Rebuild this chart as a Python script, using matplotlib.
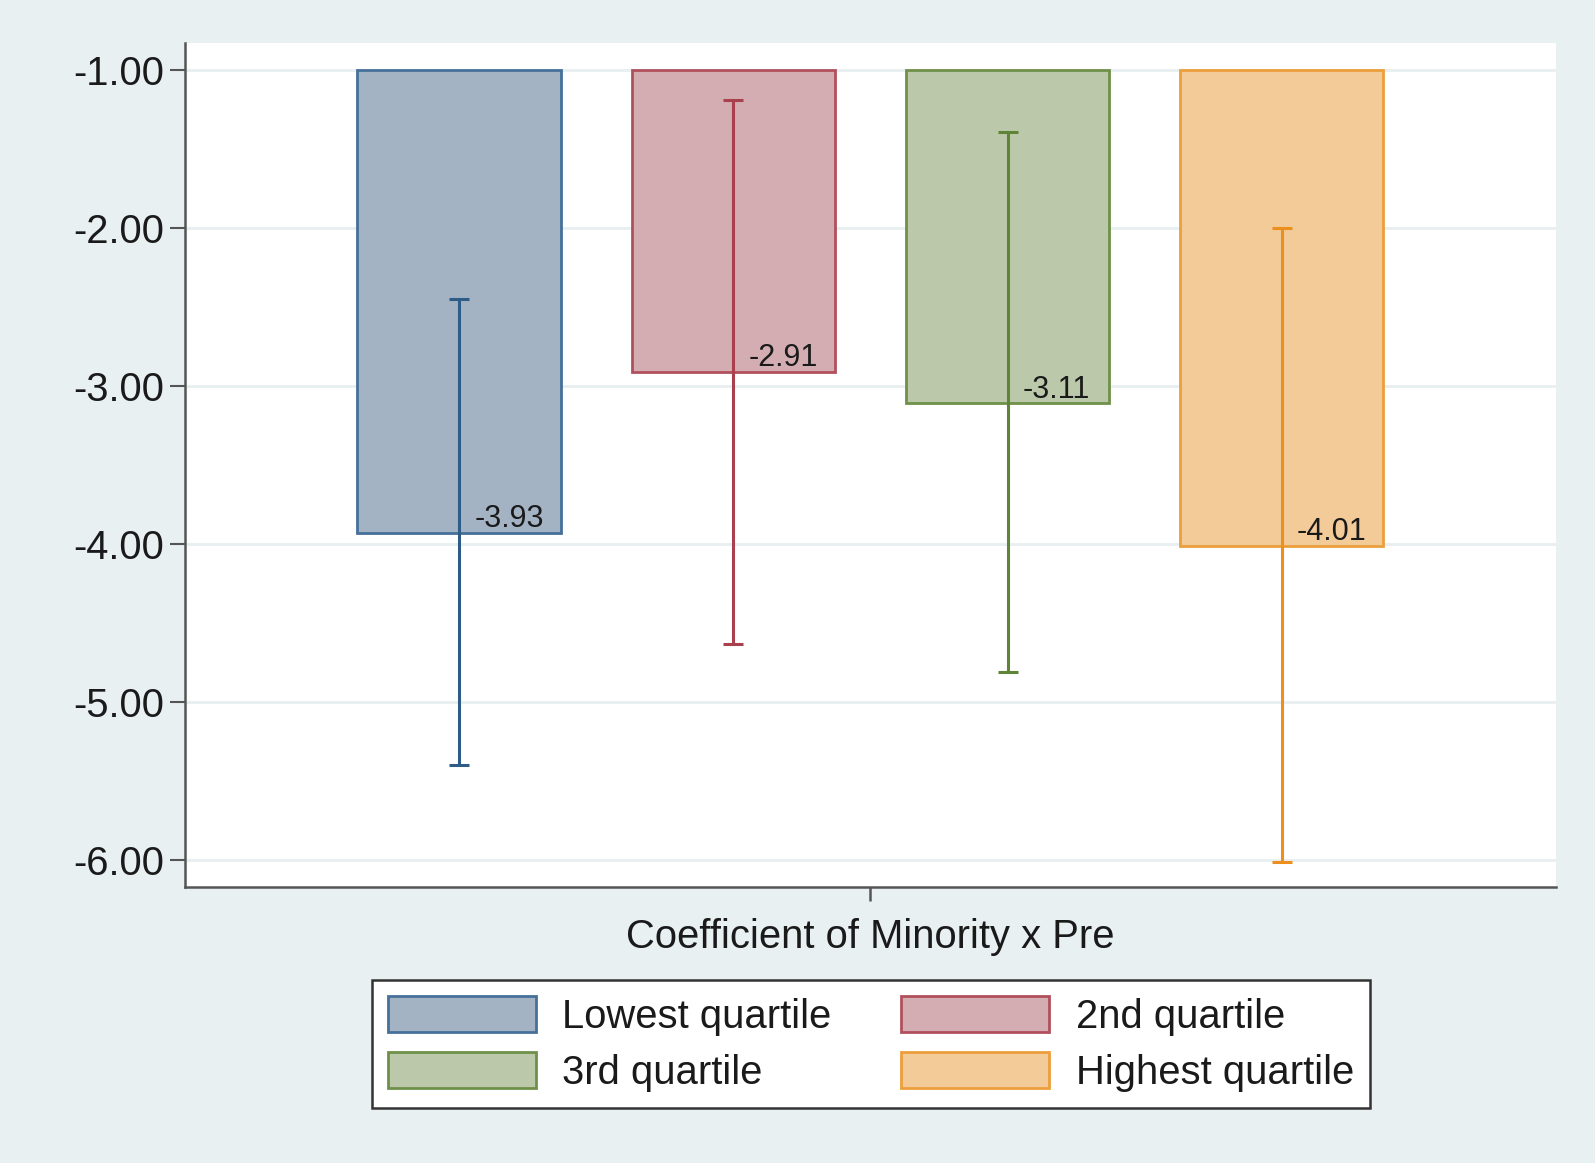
import numpy as np
import matplotlib
matplotlib.use("Agg")
import matplotlib.pyplot as plt
from matplotlib.patches import Patch

plt.rcParams['font.family'] = ['Liberation Sans', 'DejaVu Sans']

# coefficient estimates and 95% CI by quartile
groups = ['Lowest quartile', '2nd quartile', '3rd quartile', 'Highest quartile']
coef = [-3.93, -2.91, -3.11, -4.01]
ci_low = [-5.40, -4.63, -4.81, -6.01]
ci_high = [-2.45, -1.19, -1.39, -2.00]
yticks = [-1, -2, -3, -4, -5, -6]

fills = ['#a4b3c4', '#d3adb1', '#bbc9aa', '#f2cb99']
edges = ['#46709a', '#b0505c', '#6f9049', '#eb9f3c']
lines = ['#2f5b87', '#a8404e', '#5e8438', '#ec8f1c']

bg = '#e8f0f2'
grid_col = '#e8eff1'

fig = plt.figure(figsize=(15.95, 11.63), dpi=100, facecolor=bg)
ax = fig.add_axes([0.116, 0.2373, 0.8595, 0.7257])
ax.set_facecolor('white')

x = np.arange(len(groups))
base = -1.0
for i in range(len(groups)):
    ax.bar(x[i], coef[i] - base, bottom=base, width=0.742,
           color=fills[i], edgecolor=edges[i], linewidth=2, zorder=2)
    lo = coef[i] - ci_low[i]
    hi = ci_high[i] - coef[i]
    ax.errorbar(x[i], coef[i], yerr=[[lo], [hi]], fmt='none',
                ecolor=lines[i], elinewidth=2.2, capsize=7.5, capthick=2.2,
                zorder=3)
    ax.annotate(f'{coef[i]:.2f}', xy=(x[i], coef[i]), xytext=(11, 4),
                textcoords='offset points', ha='left', va='baseline',
                fontsize=22, color='#1a1a1a', zorder=4)

ax.set_xlim(-1.0, 4.0)
ax.set_ylim(-6.17, -0.83)
ax.set_yticks(yticks)
ax.set_yticklabels([f'{v:.2f}' for v in yticks])
ax.yaxis.grid(True, color=grid_col, linewidth=2)
ax.set_axisbelow(True)

ax.set_xticks([1.5])
ax.set_xticklabels([''])
ax.set_xlabel('Coefficient of Minority x Pre', fontsize=28.8,
              color='#1a1a1a', labelpad=9)

for side in ['top', 'right']:
    ax.spines[side].set_visible(False)
for side in ['left', 'bottom']:
    ax.spines[side].set_color('#555555')
    ax.spines[side].set_linewidth(1.8)
ax.tick_params(axis='y', length=11, width=1.5, color='#555555',
               labelsize=28.8, labelcolor='#1a1a1a', pad=4)
ax.tick_params(axis='x', length=10, width=1.8, color='#555555')

# legend filled row by row: matplotlib fills columns first
order = [0, 2, 1, 3]
handles = [Patch(facecolor=fills[i], edgecolor=edges[i], linewidth=2,
                 label=groups[i]) for i in order]
leg = fig.legend(handles=handles, loc='upper center', ncol=2,
                 bbox_to_anchor=(0.546, 0.1574), fontsize=28.8,
                 frameon=True, fancybox=False, edgecolor='#333333',
                 framealpha=1, handlelength=3.7, handleheight=1.0,
                 handletextpad=0.66, columnspacing=1.75, labelspacing=0.42,
                 borderpad=0.4, borderaxespad=0)
leg.get_frame().set_linewidth(1.8)
leg.get_frame().set_facecolor('white')
for t in leg.get_texts():
    t.set_color('#1a1a1a')

fig.savefig('out.png', dpi=100, facecolor=bg)
